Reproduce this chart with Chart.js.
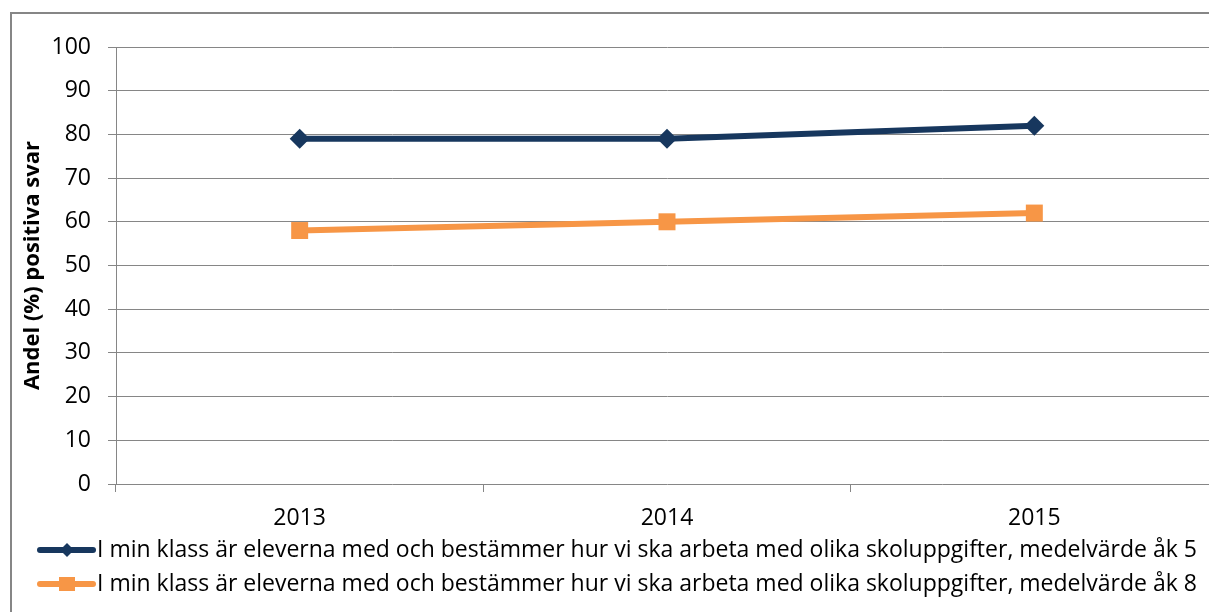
<!DOCTYPE html>
<html>
<head>
<meta charset="utf-8">
<script src="https://cdn.jsdelivr.net/npm/chart.js@4/dist/chart.umd.min.js"></script>
<style>
  html, body { margin: 0; padding: 0; background: #fff; overflow: hidden; }
  canvas { display: block; }
</style>
</head>
<body>
<canvas id="chart" width="1230" height="612"></canvas>
<script>
// DATA
const years = ["2013", "2014", "2015"];
const ak5Values = [79, 79, 82];
const ak8Values = [58, 60, 62];
const seriesNames = [
  "I min klass är eleverna med och bestämmer hur vi ska arbeta med olika skoluppgifter, medelvärde åk 5",
  "I min klass är eleverna med och bestämmer hur vi ska arbeta med olika skoluppgifter, medelvärde åk 8"
];
const yMin = 0;
const yMax = 100;
const yStep = 10;
const yTitle = "Andel (%) positiva svar";

// STYLE
const navy = "#17375e";
const orange = "#f79646";
const gridGrey = "#868686";
const FONT = "'Open Sans', 'Noto Sans', sans-serif";

// outer frame like the office chart border
const framePlugin = {
  id: "frame",
  beforeDraw(chart) {
    const ctx = chart.ctx;
    ctx.save();
    ctx.strokeStyle = gridGrey;
    ctx.lineWidth = 2;
    ctx.strokeRect(11, 13, 1400, 800);
    ctx.restore();
  }
};

// legend below the axis: line sample + marker, then text
const legendPlugin = {
  id: "bottomLegend",
  afterDraw(chart) {
    const ctx = chart.ctx;
    const rows = [550, 584];
    ctx.save();
    let size = 24;
    ctx.font = size + "px " + FONT;
    while (ctx.measureText(seriesNames[0]).width > 1106 && size > 10) {
      size -= 0.5;
      ctx.font = size + "px " + FONT;
    }
    chart.data.datasets.forEach((ds, i) => {
      const y = rows[i];
      ctx.strokeStyle = ds.borderColor;
      ctx.lineWidth = 6;
      ctx.lineCap = "round";
      ctx.beginPath();
      ctx.moveTo(40, y);
      ctx.lineTo(93, y);
      ctx.stroke();

      ctx.fillStyle = ds.borderColor;
      ctx.beginPath();
      if (ds.pointStyle === "rectRot") {
        ctx.moveTo(67, y - 7);
        ctx.lineTo(74, y);
        ctx.lineTo(67, y + 7);
        ctx.lineTo(60, y);
        ctx.closePath();
      } else {
        ctx.rect(59, y - 7, 16, 14);
      }
      ctx.fill();

      ctx.fillStyle = "#000";
      ctx.textBaseline = "middle";
      ctx.textAlign = "left";
      ctx.fillText(seriesNames[i], 97, y);
    });
    ctx.restore();
  }
};

new Chart(document.getElementById("chart"), {
  type: "line",
  data: {
    labels: years,
    datasets: [
      {
        label: seriesNames[0],
        data: ak5Values,
        borderColor: navy,
        backgroundColor: navy,
        borderWidth: 6,
        pointStyle: "rectRot",
        pointRadius: 10,
        pointHoverRadius: 10,
        pointBorderWidth: 0,
        tension: 0
      },
      {
        label: seriesNames[1],
        data: ak8Values,
        borderColor: orange,
        backgroundColor: orange,
        borderWidth: 6,
        pointStyle: "rect",
        pointRadius: 12,
        pointHoverRadius: 12,
        pointBorderWidth: 0,
        tension: 0
      }
    ]
  },
  options: {
    responsive: false,
    animation: false,
    events: [],
    layout: { padding: { left: 20, top: 47, right: 5, bottom: 0 } },
    plugins: {
      legend: { display: false },
      tooltip: { enabled: false }
    },
    scales: {
      x: {
        offset: true,
        grid: {
          offset: true,
          drawOnChartArea: false,
          tickLength: 8,
          color: gridGrey,
          lineWidth: 1
        },
        border: { display: false },
        ticks: { color: "#000", font: { family: FONT, size: 23 }, padding: 13, maxRotation: 0 },
        afterFit(scale) { scale.height = 128; }
      },
      y: {
        min: yMin,
        max: yMax,
        grid: { color: gridGrey, lineWidth: 1, tickLength: 8 },
        border: { color: gridGrey, width: 1 },
        ticks: { stepSize: yStep, color: "#000", font: { family: FONT, size: 23 }, padding: 17 },
        title: {
          display: true,
          text: yTitle,
          color: "#000",
          font: { family: FONT, size: 22, weight: "bold" },
          padding: { top: 0, bottom: 0 }
        },
        afterFit(scale) { scale.width = 96; }
      }
    }
  },
  plugins: [framePlugin, legendPlugin]
});
</script>
</body>
</html>
